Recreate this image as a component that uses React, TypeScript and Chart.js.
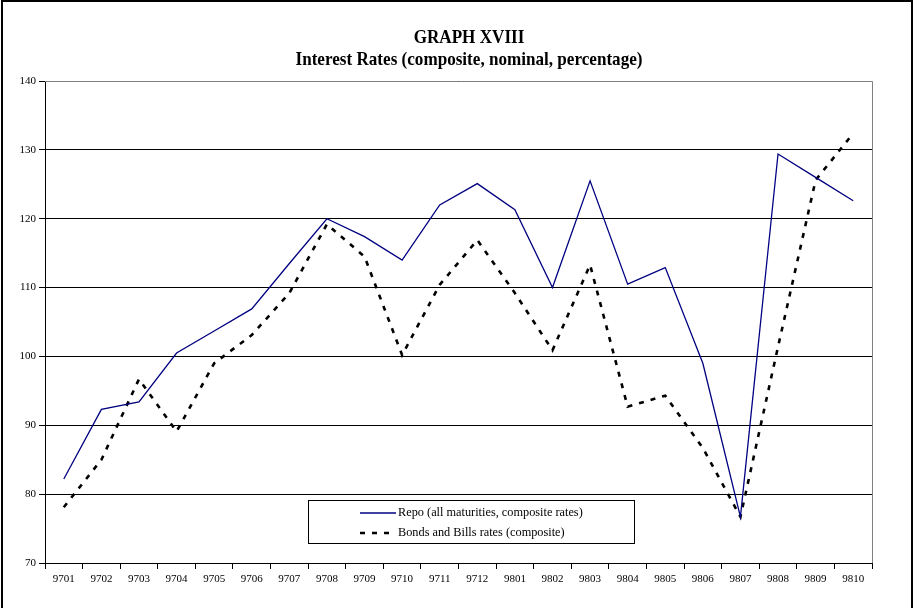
import React, { useEffect, useRef } from "react";
import { Chart, registerables } from "chart.js";

Chart.register(...registerables);

const categories = [
  "9701", "9702", "9703", "9704", "9705", "9706", "9707", "9708", "9709", "9710", "9711",
  "9712", "9801", "9802", "9803", "9804", "9805", "9806", "9807", "9808", "9809", "9810",
];

const repoRates = [
  82.2, 92.3, 93.4, 100.5, 103.7, 106.9, 113.5, 120.0, 117.4, 114.0, 122.0,
  125.1, 121.3, 110.0, 125.5, 110.5, 112.9, 99.0, 76.7, 129.4, 126.0, 122.6,
];

const bondsBillsRates = [
  78.1, 85.0, 96.7, 89.1, 99.0, 103.1, 109.2, 119.2, 114.5, 100.2, 110.4,
  116.9, 109.2, 100.9, 113.3, 92.7, 94.3, 86.7, 76.7, 101.4, 125.6, 132.4,
];

const yTicks = [70, 80, 90, 100, 110, 120, 130, 140];

const titleLines = ["GRAPH XVIII", "Interest Rates (composite, nominal, percentage)"];
const seriesLabels = ["Repo (all maturities, composite rates)", "Bonds and Bills rates (composite)"];

const SERIF = '"Liberation Serif", "Times New Roman", serif';

const framePlugin = {
  id: "frame",
  beforeDraw(chart: any) {
    const { ctx, width, height } = chart;
    ctx.save();
    ctx.fillStyle = "#ffffff";
    ctx.fillRect(0, 0, width, height);
    ctx.restore();
  },
  afterDraw(chart: any) {
    const { ctx, chartArea } = chart;
    ctx.save();
    // outer frame
    ctx.strokeStyle = "#000000";
    ctx.lineWidth = 2;
    ctx.strokeRect(2, 1, 910, 640);
    // plot area border (top/right grey)
    ctx.strokeStyle = "#808080";
    ctx.lineWidth = 1;
    ctx.beginPath();
    ctx.moveTo(chartArea.left, chartArea.top + 0.5);
    ctx.lineTo(chartArea.right + 0.5, chartArea.top + 0.5);
    ctx.lineTo(chartArea.right + 0.5, chartArea.bottom);
    ctx.stroke();
    // title (slightly condensed serif bold)
    ctx.fillStyle = "#000000";
    ctx.textAlign = "center";
    ctx.textBaseline = "middle";
    ctx.font = `bold 19px ${SERIF}`;
    const cx = 469;
    const sx = 0.9;
    ctx.save();
    ctx.translate(cx, 0);
    ctx.scale(sx, 1);
    ctx.fillText(titleLines[0], 0, 38);
    ctx.fillText(titleLines[1], 0, 60);
    ctx.restore();

    // legend
    const lx = 308, ly = 500, lw = 326, lh = 43;
    ctx.fillStyle = "#ffffff";
    ctx.fillRect(lx, ly, lw, lh);
    ctx.strokeStyle = "#000000";
    ctx.lineWidth = 1;
    ctx.strokeRect(lx + 0.5, ly + 0.5, lw, lh);
    const ds = chart.data.datasets;
    const rows = [513, 533];
    ds.forEach((d: any, i: number) => {
      const y = rows[i];
      ctx.save();
      ctx.strokeStyle = d.borderColor;
      ctx.lineWidth = d.borderWidth;
      ctx.setLineDash(d.borderDash || []);
      ctx.beginPath();
      ctx.moveTo(360, y);
      ctx.lineTo(396, y);
      ctx.stroke();
      ctx.restore();
      ctx.fillStyle = "#000000";
      ctx.textAlign = "left";
      ctx.textBaseline = "middle";
      ctx.font = `12.3px ${SERIF}`;
      ctx.fillText(d.label, 398, y);
    });
    ctx.restore();
  },
};

export default function App() {
  const ref = useRef<HTMLCanvasElement | null>(null);

  useEffect(() => {
    document.body.style.margin = "0";
    const canvas = ref.current;
    if (!canvas) return;
    const chart = new Chart(canvas, {
      type: "line",
      data: {
        labels: categories,
        datasets: [
          {
            label: seriesLabels[0],
            data: repoRates,
            borderColor: "#000080",
            borderWidth: 1.3,
            pointRadius: 0,
            fill: false,
            tension: 0,
          },
          {
            label: seriesLabels[1],
            data: bondsBillsRates,
            borderColor: "#000000",
            borderWidth: 2.6,
            borderDash: [5, 7],
            pointRadius: 0,
            fill: false,
            tension: 0,
          },
        ],
      },
      options: {
        responsive: false,
        animation: false,
        devicePixelRatio: 1,
        layout: { padding: { left: 0, top: 81, right: 43, bottom: 0 } },
        plugins: {
          legend: { display: false },
          title: { display: false },
          tooltip: { enabled: false },
        },
        scales: {
          x: {
            type: "category",
            offset: true,
            grid: {
              offset: true,
              drawOnChartArea: false,
              drawTicks: true,
              tickLength: 6,
              color: "#000000",
            },
            border: { display: true, color: "#000000", width: 1 },
            ticks: {
              color: "#000000",
              font: { family: SERIF, size: 11 },
              maxRotation: 0,
              autoSkip: false,
              padding: 4,
            },
            afterFit(scale: any) {
              scale.height = 45;
            },
          },
          y: {
            min: 70,
            max: 140,
            afterBuildTicks(scale: any) {
              scale.ticks = yTicks.map((v) => ({ value: v }));
            },
            grid: {
              color: "#000000",
              lineWidth: 1,
              drawTicks: true,
              tickLength: 6,
            },
            border: { display: true, color: "#000000", width: 1 },
            ticks: {
              color: "#000000",
              font: { family: SERIF, size: 11 },
              padding: 3,
            },
            afterFit(scale: any) {
              scale.width = 45;
            },
          },
        },
      },
      plugins: [framePlugin],
    });
    return () => chart.destroy();
  }, []);

  return (
    <div style={{ position: "relative", width: 915, height: 608 }}>
      <canvas ref={ref} width={915} height={608} style={{ display: "block" }} />
    </div>
  );
}
